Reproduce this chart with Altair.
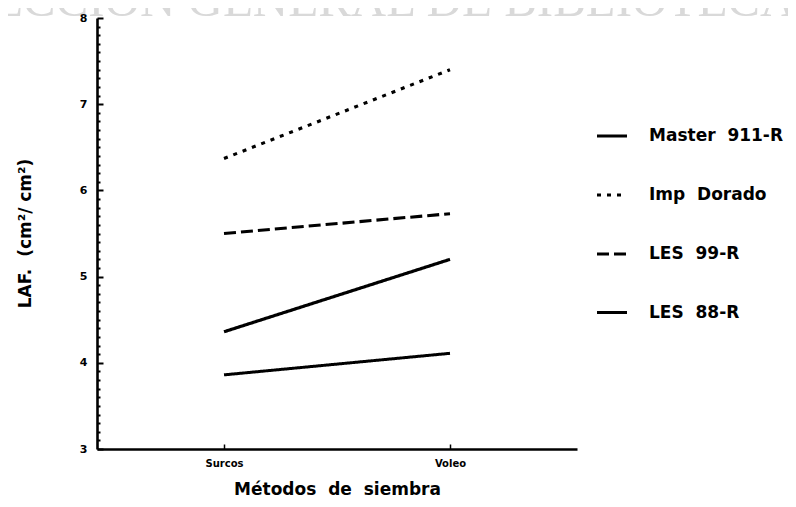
import altair as alt
import pandas as pd

# ---- data ----
metodos = ["Surcos", "Voleo"]
variedades = ["Master\u00a0\u00a0911-R", "Imp\u00a0\u00a0Dorado", "LES\u00a0\u00a099-R", "LES\u00a0\u00a088-R"]
master_911r = [4.36, 5.20]
imp_dorado = [6.37, 7.40]
les_99r = [5.50, 5.73]
les_88r = [3.86, 4.11]
y_labels = [3, 4, 5, 6, 7, 8]
y_minor = [round(3 + i / 10, 1) for i in range(51)]
watermark = "DIRECCIÓN GENERAL DE BIBLIOTECAS"

series = [master_911r, imp_dorado, les_99r, les_88r]
rows = []
for name, vals in zip(variedades, series):
    for m, v in zip(metodos, vals):
        rows.append({"variedad": name, "metodo": m, "laf": v})
df = pd.DataFrame(rows)

FONT = "DejaVu Sans"
W, H = 480, 431

legend = alt.Legend(
    orient="none", legendX=498, legendY=101, title=None,
    symbolType="stroke", symbolSize=900, symbolStrokeColor="black",
    labelFont=FONT, labelFontSize=17, labelFontWeight="bold", labelColor="black",
    labelOffset=20, rowPadding=34, labelLimit=400,
)

y_scale = alt.Scale(domain=[3, 8], nice=False, zero=False)
x_scale = alt.Scale(domain=metodos, padding=0.562)

lines = alt.Chart(df).mark_line(color="black").encode(
    x=alt.X("metodo:N", sort=metodos, scale=x_scale,
            axis=alt.Axis(orient="bottom", title="Métodos\u00a0\u00a0de\u00a0\u00a0siembra", labelAngle=0,
                          ticks=False, domainColor="black", domainWidth=2.6,
                          labelFont=FONT, labelFontWeight="bold", labelFontSize=10,
                          labelColor="black", labelPadding=9, labelBaseline="top",
                          titleFont=FONT, titleFontWeight="bold", titleFontSize=17,
                          titleColor="black", titleBaseline="alphabetic", titleY=45,
                          titleX=240, grid=False)),
    y=alt.Y("laf:Q", scale=y_scale,
            axis=alt.Axis(orient="left", values=y_labels, ticks=False, domainColor="black",
                          domainWidth=2.6, grid=False,
                          labelFont=FONT, labelFontWeight="bold", labelFontSize=11,
                          labelColor="black", labelPadding=10,
                          title="LAF.\u00a0\u00a0(cm²/ cm²)", titleFont=FONT,
                          titleFontWeight="bold", titleFontSize=17, titleColor="black",
                          titleAngle=270, titleX=-72, titleY=215,
                          titleAlign="center", titleBaseline="middle")),
    detail="variedad:N",
    strokeDash=alt.StrokeDash("variedad:N", sort=variedades,
                              scale=alt.Scale(domain=variedades,
                                              range=[[1, 0], [4, 6], [12, 5], [1, 0]]),
                              legend=legend),
    strokeWidth=alt.StrokeWidth("variedad:N", sort=variedades,
                                scale=alt.Scale(domain=variedades, range=[3.2, 3.0, 2.8, 2.0]),
                                legend=legend),
)

ticks_layer = alt.Chart(df).mark_line(strokeOpacity=0).encode(
    x=alt.X("metodo:N", sort=metodos, scale=x_scale,
            axis=alt.Axis(orient="top", offset=-H, values=metodos, labels=False, domain=False,
                          tickSize=5, tickWidth=1.5, tickColor="black", grid=False,
                          title=watermark, titleFont="Liberation Serif", titleFontSize=49,
                          titleFontWeight="normal", titleColor="#d9d9d9",
                          titleAlign="left", titleBaseline="alphabetic", titleAngle=0,
                          titleX=-189, titleY=-(H + 3))),
    y=alt.Y("laf:Q", scale=y_scale,
            axis=alt.Axis(orient="right", offset=-W, values=y_minor, labels=False, domain=False,
                          tickColor="black", tickWidth=2, grid=False, title=None,
                          tickSize={"condition": {"test": "abs(datum.value - round(datum.value)) < 0.001",
                                                  "value": 6}, "value": 3})),
    detail="variedad:N",
)

chart = alt.layer(lines, ticks_layer).resolve_axis(
    x="independent", y="independent"
).properties(
    width=W, height=H,
    autosize=alt.AutoSizeParams(type="none"),
    padding={"left": 89, "top": 10, "right": 211, "bottom": 50},
    background="white",
).configure_view(stroke=None)

chart.save("out.html", embed_options={"renderer": "svg", "actions": False})
